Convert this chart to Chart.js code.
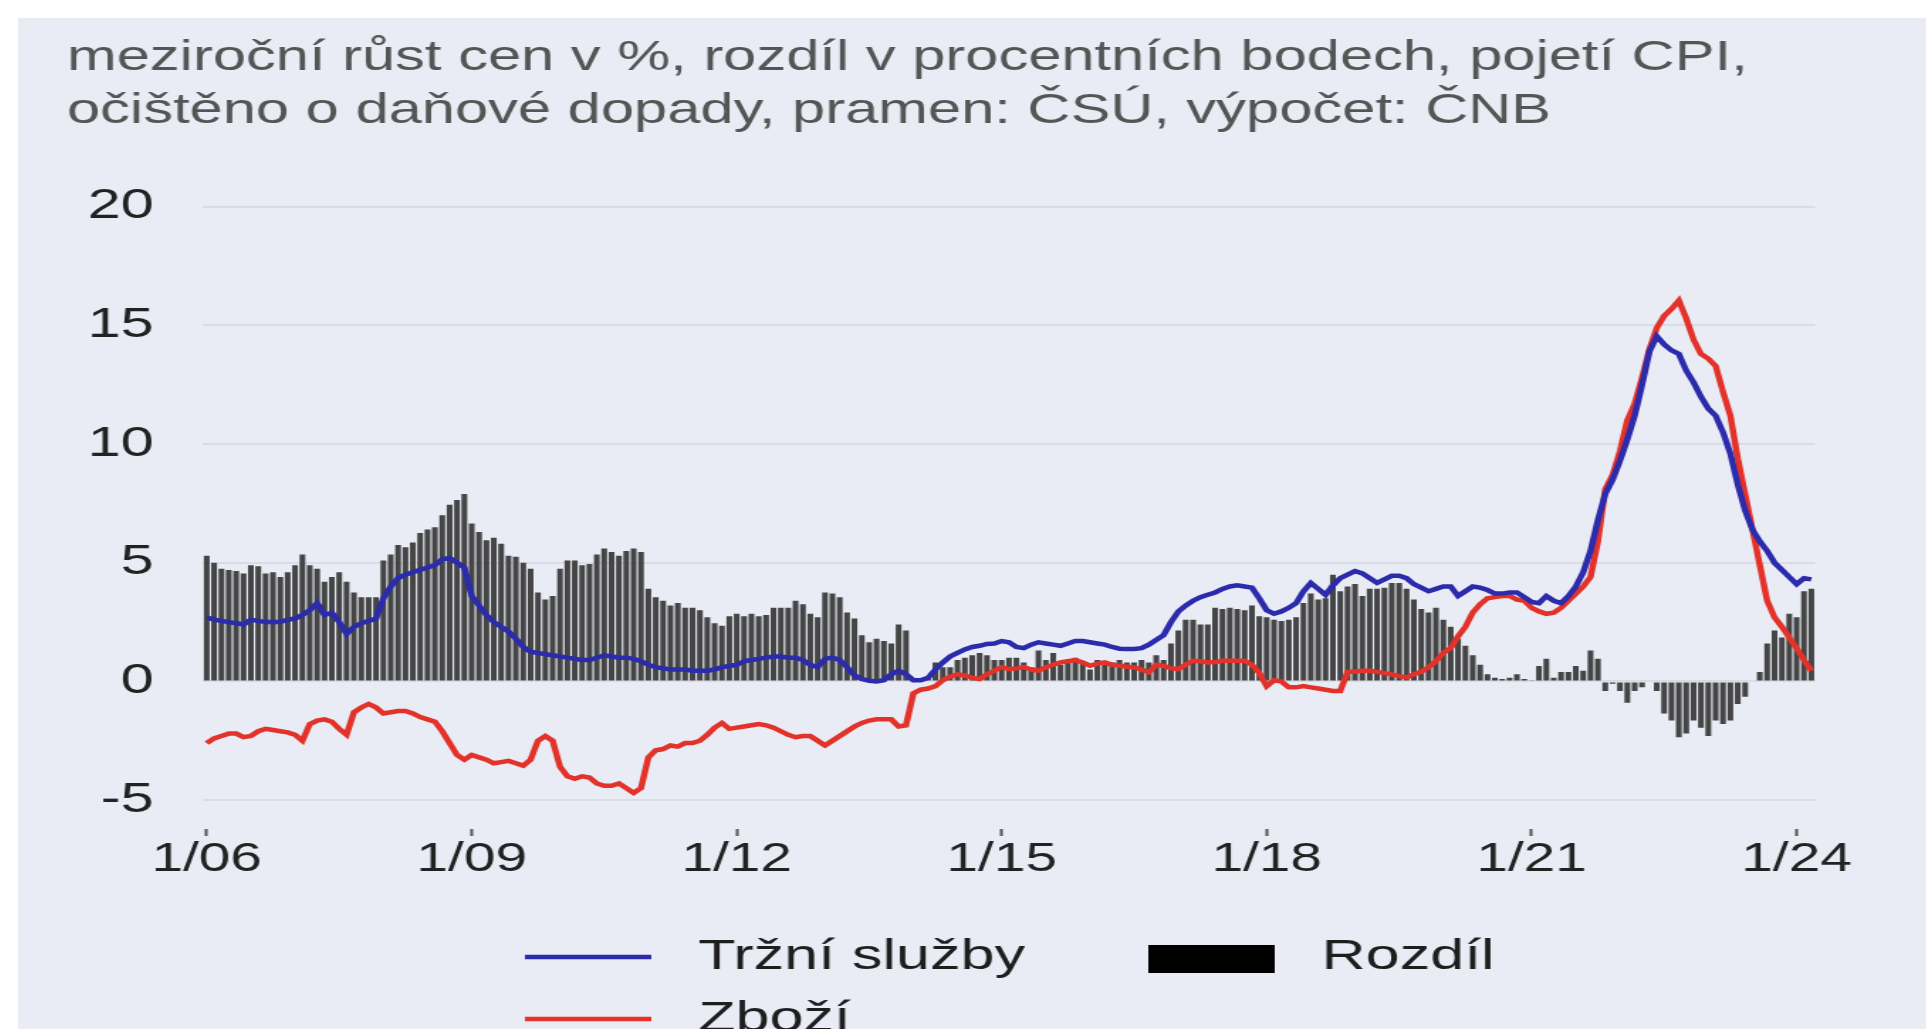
<!DOCTYPE html>
<html>
<head>
<meta charset="utf-8">
<script src="https://cdn.jsdelivr.net/npm/chart.js@4/dist/chart.umd.min.js"></script>
<style>
html, body { margin: 0; padding: 0; background: #ffffff; }
#panel { position: absolute; left: 18px; top: 18px; width: 1908px; height: 1011px; background: #e9ecf5; overflow: hidden; }
/* the reference is stretched horizontally, so the canvas is too */
#roztazeni { width: 1344px; height: 1011px; transform: scaleX(1.42); transform-origin: 0 0; }
</style>
</head>
<body>
<div id="panel"><div id="roztazeni"><canvas id="graf" width="1344" height="1011"></canvas></div></div>
<script>
// mesice 1/06 .. 3/24
var mesice = [];
for (var r = 2006; r <= 2024; r++) {
    for (var m = 1; m <= 12; m++) {
        if (r === 2024 && m > 3) break;
        mesice.push(m + '/' + String(r).slice(2));
    }
}

var titulek = [
    'meziroční růst cen v %, rozdíl v procentních bodech, pojetí CPI,',
    'očištěno o daňové dopady, pramen: ČSÚ, výpočet: ČNB'
];

// Tržní služby
var sluzby = [
    2.7, 2.6, 2.55, 2.5, 2.45, 2.4, 2.6, 2.55, 2.5, 2.5, 2.5, 2.6,
    2.65, 2.8, 3.0, 3.3, 2.8, 2.9, 2.5, 2.0, 2.3, 2.45, 2.55, 2.65,
    3.5, 4.0, 4.35, 4.5, 4.6, 4.7, 4.8, 4.9, 5.15, 5.2, 5.0, 4.8,
    3.6, 3.2, 2.8, 2.5, 2.3, 2.1, 1.8, 1.45, 1.25, 1.2, 1.15, 1.1,
    1.05, 1.0, 0.95, 0.9, 0.9, 1.0, 1.1, 1.05, 1.0, 1.0, 0.95, 0.85,
    0.7, 0.6, 0.55, 0.5, 0.5, 0.5, 0.45, 0.45, 0.45, 0.5, 0.6, 0.65,
    0.7, 0.85, 0.9, 0.95, 1.0, 1.05, 1.05, 1.0, 1.0, 0.9, 0.7, 0.6,
    0.95, 1.0, 0.9, 0.6, 0.25, 0.1, 0.03, 0.0, 0.05, 0.3, 0.45, 0.3,
    0.05, 0.05, 0.15, 0.5, 0.8, 1.05, 1.2, 1.35, 1.45, 1.5, 1.58, 1.6,
    1.7, 1.65, 1.45, 1.4, 1.55, 1.65, 1.6, 1.55, 1.5, 1.6, 1.7, 1.7,
    1.65, 1.6, 1.55, 1.45, 1.38, 1.37, 1.37, 1.4, 1.55, 1.75, 1.95, 2.5,
    2.95, 3.2, 3.4, 3.55, 3.65, 3.75, 3.9, 4.0, 4.05, 4.0, 3.95, 3.5,
    3.0, 2.85, 2.95, 3.1, 3.3, 3.8, 4.15, 3.9, 3.65, 4.05, 4.35, 4.5,
    4.65, 4.55, 4.35, 4.15, 4.3, 4.45, 4.45, 4.35, 4.1, 3.95, 3.8, 3.9,
    4.0, 4.0, 3.6, 3.8, 4.0, 3.95, 3.85, 3.7, 3.7, 3.75, 3.75, 3.55,
    3.35, 3.3, 3.6, 3.4, 3.3, 3.6, 4.0, 4.6, 5.5, 6.8, 7.9, 8.5,
    9.3, 10.2, 11.2, 12.5, 13.9, 14.55, 14.2, 13.95, 13.8, 13.1, 12.6, 12.0,
    11.5, 11.2, 10.5, 9.6, 8.3, 7.2, 6.4, 5.9, 5.5, 5.0, 4.7, 4.4,
    4.1, 4.35, 4.3
];

// Zboží
var zbozi = [
    -2.6, -2.4, -2.3, -2.2, -2.2, -2.35, -2.3, -2.1, -2.0, -2.05, -2.1, -2.15,
    -2.25, -2.5, -1.8, -1.65, -1.6, -1.7, -2.0, -2.25, -1.3, -1.1, -0.95, -1.1,
    -1.35, -1.3, -1.25, -1.25, -1.35, -1.5, -1.6, -1.7, -2.1, -2.6, -3.1, -3.3,
    -3.1, -3.2, -3.3, -3.45, -3.4, -3.35, -3.45, -3.55, -3.3, -2.5, -2.3, -2.5,
    -3.6, -4.0, -4.1, -4.0, -4.05, -4.3, -4.4, -4.4, -4.3, -4.5, -4.7, -4.5,
    -3.2, -2.9, -2.85, -2.7, -2.75, -2.6, -2.6, -2.5, -2.25, -1.95, -1.75, -2.0,
    -1.95, -1.9, -1.85, -1.8, -1.85, -1.95, -2.1, -2.25, -2.35, -2.3, -2.3, -2.5,
    -2.7, -2.5, -2.3, -2.1, -1.9, -1.75, -1.65, -1.6, -1.6, -1.6, -1.9, -1.85,
    -0.5, -0.35, -0.3, -0.2, 0.05, 0.2, 0.3, 0.25, 0.15, 0.1, 0.3, 0.45,
    0.6, 0.52, 0.55, 0.6, 0.5, 0.45, 0.6, 0.7, 0.8, 0.85, 0.9, 0.8,
    0.66, 0.75, 0.8, 0.7, 0.66, 0.62, 0.59, 0.5, 0.38, 0.7, 0.65, 0.55,
    0.52, 0.7, 0.87, 0.85, 0.8, 0.82, 0.87, 0.87, 0.87, 0.87, 0.7, 0.35,
    -0.2, 0.05, 0.0, -0.25, -0.25, -0.2, -0.25, -0.3, -0.35, -0.4, -0.4, 0.4,
    0.42, 0.45, 0.45, 0.4, 0.35, 0.3, 0.22, 0.17, 0.3, 0.4, 0.6, 0.85,
    1.2, 1.4, 1.9, 2.3, 2.9, 3.25, 3.5, 3.55, 3.6, 3.6, 3.45, 3.4,
    3.1, 2.95, 2.85, 2.9, 3.1, 3.4, 3.7, 4.0, 4.4, 5.9, 8.1, 8.7,
    9.7, 11.0, 11.7, 12.8, 14.0, 14.9, 15.4, 15.7, 16.05, 15.3, 14.4, 13.8,
    13.6, 13.3, 12.2, 11.2, 9.4, 7.9, 6.4, 4.9, 3.4, 2.7, 2.3, 1.85,
    1.4, 0.9, 0.45
];

// Rozdíl (sloupce)
var rozdil = [
    5.3, 5.0, 4.75, 4.7, 4.65, 4.55, 4.9, 4.85, 4.55, 4.6, 4.4, 4.6,
    4.9, 5.35, 4.9, 4.75, 4.2, 4.4, 4.6, 4.2, 3.75, 3.55, 3.55, 3.55,
    5.1, 5.35, 5.75, 5.65, 5.85, 6.25, 6.4, 6.5, 7.0, 7.45, 7.65, 7.9,
    6.65, 6.3, 5.95, 6.05, 5.8, 5.3, 5.25, 5.0, 4.75, 3.75, 3.45, 3.6,
    4.75, 5.1, 5.1, 4.9, 4.95, 5.35, 5.6, 5.45, 5.3, 5.5, 5.6, 5.45,
    3.9, 3.55, 3.4, 3.2, 3.3, 3.1, 3.1, 3.0, 2.7, 2.45, 2.35, 2.75,
    2.85, 2.75, 2.85, 2.75, 2.8, 3.1, 3.1, 3.1, 3.4, 3.25, 2.85, 2.7,
    3.75, 3.7, 3.55, 2.9, 2.65, 1.95, 1.65, 1.8, 1.7, 1.6, 2.4, 2.15,
    0.1, 0.05, 0.1, 0.8, 0.6, 0.6, 0.9, 1.0, 1.1, 1.2, 1.1, 0.9,
    0.9, 1.0, 1.0, 0.8, 0.6, 1.3, 0.9, 1.2, 0.7, 0.8, 1.0, 0.8,
    0.5, 0.9, 0.7, 0.8, 0.9, 0.8, 0.8, 0.9, 0.8, 1.1, 0.9, 1.6,
    2.15, 2.6, 2.6, 2.4, 2.4, 3.1, 3.05, 3.1, 3.05, 3.0, 3.2, 2.75,
    2.7, 2.6, 2.55, 2.6, 2.7, 3.3, 3.7, 3.45, 3.5, 4.5, 3.8, 4.0,
    4.1, 3.6, 3.9, 3.9, 3.95, 4.15, 4.15, 3.9, 3.45, 3.05, 2.9, 3.1,
    2.6, 2.3, 1.8, 1.5, 1.1, 0.7, 0.3, 0.15, 0.1, 0.15, 0.3, 0.1,
    0.05, 0.65, 0.95, 0.15, 0.4, 0.4, 0.65, 0.45, 1.3, 0.95, -0.4, -0.1,
    -0.4, -0.9, -0.4, -0.25, -0.05, -0.4, -1.35, -1.65, -2.35, -2.2, -1.65, -1.95,
    -2.3, -1.65, -1.8, -1.65, -0.95, -0.65, -0.05, 0.4, 1.6, 2.15, 1.85, 2.85,
    2.7, 3.8, 3.9
];

var pismo = 'Liberation Sans, Arial, sans-serif';

// legenda ve dvou sloupcich (jako v originale)
var legendaMrizka = {
    id: 'legendaMrizka',
    afterDraw: function(chart, args, opts) {
        var ctx = chart.ctx;
        ctx.save();
        ctx.font = opts.size + 'px ' + pismo;
        ctx.textBaseline = 'middle';
        opts.polozky.forEach(function(p) {
            var ds = chart.data.datasets[p.dataset];
            if (ds.type === 'line') {
                ctx.strokeStyle = ds.borderColor;
                ctx.lineWidth = ds.borderWidth;
                ctx.beginPath();
                ctx.moveTo(p.x, p.y);
                ctx.lineTo(p.x + opts.sirka, p.y);
                ctx.stroke();
            } else {
                ctx.fillStyle = '#000000';
                ctx.fillRect(p.x, p.y - opts.vyska / 2 + 2, opts.sirka, opts.vyska);
            }
            ctx.fillStyle = opts.color;
            ctx.fillText(ds.label, p.x + opts.sirka + opts.mezera, p.y);
        });
        ctx.restore();
    }
};

var ctx = document.getElementById('graf').getContext('2d');
var graf = new Chart(ctx, {
    type: 'bar',
    data: {
        labels: mesice,
        datasets: [{
            type: 'line',
            label: 'Tržní služby',
            data: sluzby,
            borderColor: '#2b2bab',
            borderWidth: 4.5,
            pointRadius: 0,
            tension: 0,
            order: 0
        }, {
            type: 'line',
            label: 'Zboží',
            data: zbozi,
            borderColor: '#e2322a',
            borderWidth: 4.5,
            pointRadius: 0,
            tension: 0,
            order: 1
        }, {
            type: 'bar',
            label: 'Rozdíl',
            data: rozdil,
            backgroundColor: '#454545',
            barPercentage: 0.78,
            categoryPercentage: 1.0,
            order: 2
        }]
    },
    options: {
        responsive: false,
        animation: false,
        events: [],
        layout: { padding: { left: 34.5, right: 78.5, top: 0, bottom: 145 } },
        plugins: {
            legend: { display: false },
            tooltip: { enabled: false },
            title: {
                display: true,
                align: 'start',
                text: titulek,
                color: '#555555',
                font: { family: pismo, size: 42, weight: 'normal', lineHeight: 1.26 },
                padding: { top: 14, bottom: 69 }
            },
            legendaMrizka: {
                size: 43,
                color: '#1e1e1e',
                sirka: 89,
                vyska: 28,
                mezera: 33,
                polozky: [
                    { dataset: 0, x: 357, y: 939 },
                    { dataset: 2, x: 796, y: 939 },
                    { dataset: 1, x: 357, y: 1001 }
                ]
            }
        },
        scales: {
            x: {
                offset: true,
                grid: { display: true, drawOnChartArea: false, drawTicks: true, tickLength: 7, tickWidth: 2, tickColor: '#555555', offset: false },
                border: { display: false },
                afterBuildTicks: function(axis) {
                    axis.ticks = axis.ticks.filter(function(t) { return t.value % 36 === 0; });
                },
                ticks: {
                    autoSkip: false,
                    maxRotation: 0,
                    padding: 0,
                    color: '#222222',
                    font: { family: pismo, size: 40 }
                }
            },
            y: {
                min: -6.22,
                max: 20,
                grid: { color: '#d9dce6', lineWidth: 2, drawTicks: false },
                border: { display: false },
                afterFit: function(scale) { scale.width = 95.8; },
                ticks: {
                    stepSize: 5,
                    includeBounds: false,
                    padding: 34.6,
                    color: '#222222',
                    font: { family: pismo, size: 42 }
                }
            }
        }
    },
    plugins: [legendaMrizka]
});
</script>
</body>
</html>
